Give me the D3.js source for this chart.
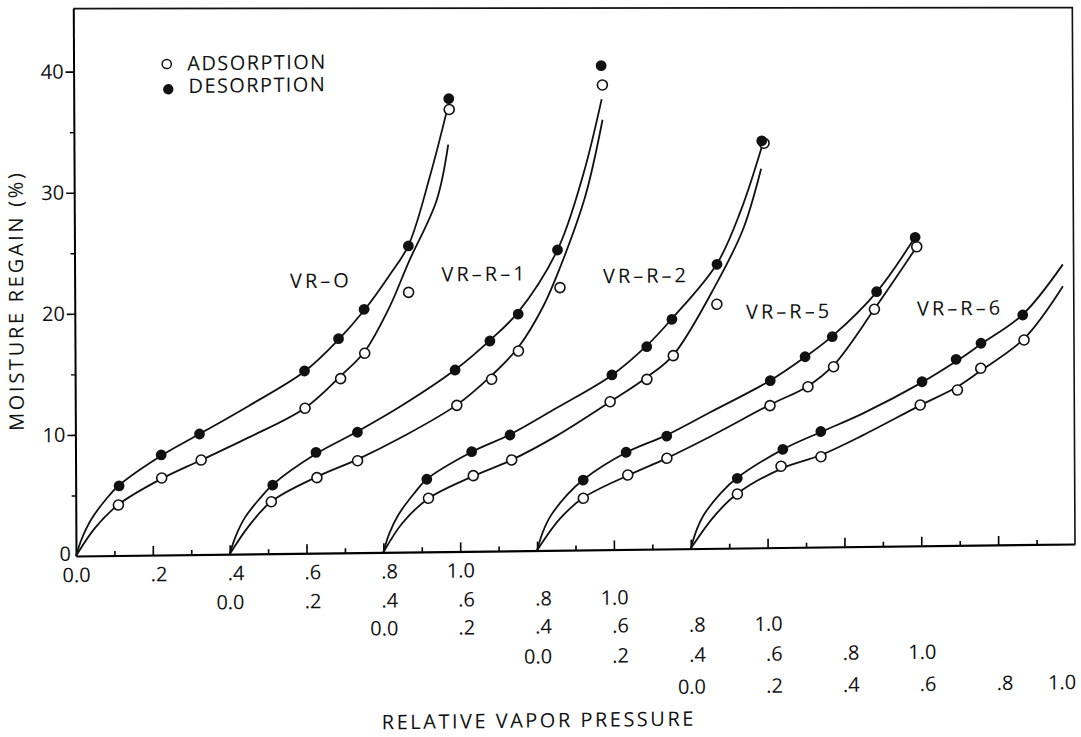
<!DOCTYPE html>
<html>
<head>
<meta charset="utf-8">
<script src="https://cdn.jsdelivr.net/npm/d3@7"></script>
<style>
  html, body { margin: 0; background: #fff; }
  svg { display: block; }
  text { font-family: 'Open Sans', sans-serif; fill: #111; }
</style>
</head>
<body>
<div id="chart"></div>
<script>
// five samples share one axis, each shifted right by 0.4
const samples = ['VR–O', 'VR–R–1', 'VR–R–2', 'VR–R–5', 'VR–R–6'];
const axisOffsets = [0, 0.4, 0.8, 1.2, 1.6];
// where each sample name sits, in shared-axis units / regain %
const labelSpots = [[0.641, 22.5], [1.067, 22.9], [1.487, 22.6], [1.859, 19.5], [2.304, 19.6]];

// measured points: [relative vapor pressure, moisture regain %]
const vrOAds = [[0.111, 4.17], [0.224, 6.36], [0.327, 7.8], [0.598, 11.97], [0.691, 14.38], [0.754, 16.45], [0.869, 21.44], [0.977, 36.5]];
const vrODes = [[0.113, 5.74], [0.223, 8.26], [0.323, 9.95], [0.597, 15.05], [0.686, 17.68], [0.753, 20.08], [0.869, 25.27], [0.976, 37.39]];
const vrR1Ads = [[0.109, 4.29], [0.228, 6.23], [0.334, 7.59], [0.593, 12.06], [0.684, 14.18], [0.754, 16.49], [0.863, 21.68], [0.976, 38.37]];
const vrR1Des = [[0.113, 5.66], [0.226, 8.32], [0.334, 9.94], [0.589, 14.98], [0.68, 17.34], [0.754, 19.54], [0.857, 24.79], [0.973, 39.97]];
const vrR2Ads = [[0.118, 4.42], [0.235, 6.24], [0.335, 7.5], [0.592, 12.21], [0.688, 14.02], [0.757, 15.95], [0.871, 20.15], [0.996, 33.4]];
const vrR2Des = [[0.114, 5.99], [0.231, 8.22], [0.331, 9.56], [0.597, 14.42], [0.688, 16.72], [0.754, 18.95], [0.872, 23.45], [0.99, 33.6]];
const vrR5Ads = [[0.121, 4.26], [0.237, 6.14], [0.339, 7.48], [0.608, 11.73], [0.707, 13.25], [0.774, 14.88], [0.881, 19.58], [0.992, 24.7]];
const vrR5Des = [[0.121, 5.77], [0.233, 8.02], [0.339, 9.32], [0.609, 13.79], [0.7, 15.73], [0.771, 17.36], [0.887, 21.03], [0.988, 25.48]];
const vrR6Ads = [[0.122, 4.46], [0.236, 6.71], [0.34, 7.46], [0.599, 11.63], [0.696, 12.83], [0.757, 14.6], [0.87, 16.9]];
const vrR6Des = [[0.122, 5.76], [0.241, 8.11], [0.34, 9.54], [0.604, 13.55], [0.693, 15.37], [0.758, 16.67], [0.867, 18.96]];

// fitted curves
const vrOAdsCurve = [[0, 0], [0.05, 2.3], [0.111, 4.2], [0.224, 6.3], [0.327, 7.8], [0.45, 9.6], [0.598, 12.0], [0.691, 14.6], [0.754, 16.6], [0.82, 20.3], [0.869, 23.9], [0.943, 29.0], [0.974, 33.6]];
const vrODesCurve = [[0, 0], [0.015, 1.4], [0.04, 3.0], [0.08, 4.7], [0.113, 5.8], [0.223, 8.2], [0.323, 9.95], [0.45, 12.2], [0.597, 15.0], [0.686, 17.6], [0.753, 20.0], [0.82, 22.9], [0.869, 25.3], [0.926, 31.0], [0.975, 36.9]];
const vrR1AdsCurve = [[0, 0], [0.05, 2.3], [0.109, 4.3], [0.228, 6.3], [0.334, 7.7], [0.45, 9.5], [0.593, 12.1], [0.684, 14.5], [0.754, 16.8], [0.82, 20.2], [0.863, 23.3], [0.93, 29.2], [0.976, 35.5]];
const vrR1DesCurve = [[0, 0], [0.015, 1.4], [0.04, 3.0], [0.08, 4.6], [0.113, 5.7], [0.226, 8.2], [0.334, 10.0], [0.45, 12.1], [0.589, 15.0], [0.68, 17.4], [0.754, 19.7], [0.857, 24.8], [0.925, 31.0], [0.974, 37.2]];
const vrR2AdsCurve = [[0, 0], [0.05, 2.4], [0.118, 4.4], [0.235, 6.2], [0.335, 7.5], [0.45, 9.4], [0.592, 12.2], [0.688, 14.2], [0.757, 16.0], [0.871, 21.9], [0.94, 26.3], [0.988, 31.3]];
const vrR2DesCurve = [[0, 0], [0.015, 1.5], [0.04, 3.1], [0.08, 4.8], [0.114, 6.0], [0.231, 8.2], [0.331, 9.6], [0.45, 11.7], [0.597, 14.4], [0.688, 16.8], [0.754, 19.0], [0.872, 23.5], [0.935, 27.9], [0.99, 33.1]];
const vrR5AdsCurve = [[0, 0], [0.06, 2.6], [0.121, 4.3], [0.237, 6.1], [0.339, 7.5], [0.45, 9.2], [0.608, 11.8], [0.707, 13.3], [0.774, 15.0], [0.881, 19.6], [0.992, 24.7]];
const vrR5DesCurve = [[0, 0], [0.015, 1.5], [0.035, 2.8], [0.08, 4.6], [0.121, 5.8], [0.233, 8.0], [0.339, 9.4], [0.45, 11.2], [0.609, 13.8], [0.7, 15.7], [0.771, 17.4], [0.887, 21.0], [0.988, 25.5]];
const vrR6AdsCurve = [[0, 0], [0.06, 2.6], [0.122, 4.5], [0.236, 6.5], [0.34, 7.6], [0.45, 9.2], [0.599, 11.6], [0.696, 13.1], [0.757, 14.4], [0.87, 17.0], [0.972, 21.3]];
const vrR6DesCurve = [[0, 0], [0.015, 1.5], [0.035, 2.8], [0.08, 4.6], [0.122, 5.8], [0.241, 8.1], [0.34, 9.5], [0.45, 11.0], [0.604, 13.5], [0.693, 15.2], [0.758, 16.6], [0.867, 19.0], [0.972, 23.1]];

const adsorption = [vrOAds, vrR1Ads, vrR2Ads, vrR5Ads, vrR6Ads];
const desorption = [vrODes, vrR1Des, vrR2Des, vrR5Des, vrR6Des];
const adsCurves = [vrOAdsCurve, vrR1AdsCurve, vrR2AdsCurve, vrR5AdsCurve, vrR6AdsCurve];
const desCurves = [vrODesCurve, vrR1DesCurve, vrR2DesCurve, vrR5DesCurve, vrR6DesCurve];

const yTicks = [0, 10, 20, 30, 40];
const yMinorTicks = [5, 15, 25, 35];
const rowTicks = [0, 0.2, 0.4, 0.6, 0.8, 1.0];

const W = 1081, H = 737;
const ox = 76, oy = 556;             // origin in page pixels
const xMax = 2.6, yMax = 45.2;
const rowMid = [575, 604, 632, 662, 694]; // centre line of each label row
const shear = { b: -0.012, c: 0.005 };    // the scanned page is slightly sheared

const svg = d3.select('#chart').append('svg')
  .attr('width', W)
  .attr('height', H);

const root = svg.append('g')
  .attr('transform', `matrix(1,${shear.b},${shear.c},1,${-shear.c * oy},${-shear.b * ox})`);

const x = d3.scaleLinear().domain([0, xMax]).range([ox, 1075]);
const y = d3.scaleLinear().domain([0, yMax]).range([oy, 8.6]);

// frame (top edge of the original drops a little to the right)
root.append('path')
  .attr('d', `M${x(0)},${y(yMax)}L${x(xMax)},${y(yMax) + 11}L${x(xMax)},${y(0)}`)
  .attr('fill', 'none')
  .attr('stroke', '#111')
  .attr('stroke-width', 1.6);

// bottom axis: long ticks on even tenths, short on odd
const majorX = d3.range(2, 26, 2).map((i) => i / 10);
const minorX = d3.range(1, 26, 2).map((i) => i / 10);

root.append('g')
  .attr('transform', `translate(0,${oy})`)
  .call(d3.axisBottom(x).tickValues(majorX).tickSize(-9).tickSizeOuter(0).tickFormat(''))
  .call((g) => g.select('.domain').attr('stroke-width', 2.2))
  .call((g) => g.selectAll('.tick line').attr('stroke-width', 1.6));

root.append('g')
  .attr('transform', `translate(0,${oy})`)
  .call(d3.axisBottom(x).tickValues(minorX).tickSize(-4.5).tickSizeOuter(0).tickFormat(''))
  .call((g) => g.select('.domain').remove())
  .call((g) => g.selectAll('.tick line').attr('stroke-width', 1.6));

// left axis
root.append('g')
  .attr('transform', `translate(${ox},0)`)
  .call(d3.axisLeft(y).tickValues(yTicks).tickSize(8).tickPadding(2).tickSizeOuter(0))
  .attr('font-size', 20)
  .attr('font-family', null)
  .call((g) => g.select('.domain').attr('stroke-width', 2))
  .call((g) => g.selectAll('.tick line').attr('stroke-width', 1.6))
  .call((g) => g.selectAll('.tick').filter((d) => d === 0).select('line').remove())
  .call((g) => g.selectAll('.tick').filter((d) => d === 0).select('text').attr('x', -5).attr('y', -2));

root.append('g')
  .attr('transform', `translate(${ox},0)`)
  .call(d3.axisLeft(y).tickValues(yMinorTicks).tickSize(4).tickSizeOuter(0).tickFormat(''))
  .call((g) => g.select('.domain').remove())
  .call((g) => g.selectAll('.tick line').attr('stroke-width', 1.4));

// one row of labels per sample, each starting at that sample's 0.0
const rowFormat = (v) => {
  const s = d3.format('.1f')(v);
  return v > 0 && v < 1 ? s.slice(1) : s;
};

axisOffsets.forEach((off, k) => {
  const rx = d3.scaleLinear().domain([-off, xMax - off]).range([ox, x(xMax)]);
  root.append('g')
    .attr('transform', `translate(0,${rowMid[k] - 7.1})`)
    .call(d3.axisBottom(rx).tickValues(rowTicks).tickSize(0).tickPadding(0).tickFormat(rowFormat))
    .attr('font-size', 20)
    .attr('font-family', null)
    .call((g) => g.select('.domain').remove())
    .call((g) => g.selectAll('.tick text')
      .attr('text-anchor', (d) => (d > 0 && d < 1 ? 'start' : off + d >= xMax ? 'end' : 'middle'))
      .attr('dx', (d) => (d > 0 && d < 1 ? -2.7 : 0)));
});

// curves
const line = (off) => d3.line()
  .x((d) => x(off + d[0]))
  .y((d) => y(d[1]))
  .curve(d3.curveCatmullRom.alpha(0.5));

const curves = root.append('g')
  .attr('fill', 'none')
  .attr('stroke', '#111')
  .attr('stroke-width', 1.8);

axisOffsets.forEach((off, i) => {
  curves.append('path').attr('d', line(off)(desCurves[i]));
  curves.append('path').attr('d', line(off)(adsCurves[i]));
});

// markers: open for adsorption, filled for desorption
axisOffsets.forEach((off, i) => {
  root.append('g')
    .selectAll('circle')
    .data(adsorption[i])
    .join('circle')
    .attr('cx', (d) => x(off + d[0]))
    .attr('cy', (d) => y(d[1]))
    .attr('r', 5)
    .attr('fill', '#fff')
    .attr('stroke', '#111')
    .attr('stroke-width', 1.6);

  root.append('g')
    .selectAll('circle')
    .data(desorption[i])
    .join('circle')
    .attr('cx', (d) => x(off + d[0]))
    .attr('cy', (d) => y(d[1]))
    .attr('r', 5.4)
    .attr('fill', '#111');
});

// sample names
root.append('g')
  .selectAll('text')
  .data(samples)
  .join('text')
  .attr('x', (d, i) => x(labelSpots[i][0]))
  .attr('y', (d, i) => y(labelSpots[i][1]) + 7.2)
  .attr('text-anchor', 'middle')
  .attr('font-size', 20)
  .attr('letter-spacing', 3)
  .text((d) => d);

// legend
const legend = root.append('g').attr('font-size', 20).attr('letter-spacing', 1.4);
legend.append('circle').attr('cx', 169.2).attr('cy', 65.1).attr('r', 4.6)
  .attr('fill', '#fff').attr('stroke', '#111').attr('stroke-width', 1.5);
legend.append('text').attr('x', 189.8).attr('y', 71.9).text('ADSORPTION');
legend.append('circle').attr('cx', 170.6).attr('cy', 90.4).attr('r', 5.2).attr('fill', '#111');
legend.append('text').attr('x', 190.8).attr('y', 94.4).text('DESORPTION');

// axis titles
root.append('text')
  .attr('transform', 'translate(24.5,300) rotate(-90)')
  .attr('text-anchor', 'middle')
  .attr('font-size', 20)
  .attr('letter-spacing', 2.7)
  .text('MOISTURE REGAIN (%)');

root.append('text')
  .attr('x', 538)
  .attr('y', 733)
  .attr('text-anchor', 'middle')
  .attr('font-size', 20)
  .attr('letter-spacing', 2.5)
  .text('RELATIVE VAPOR PRESSURE');
</script>
</body>
</html>
